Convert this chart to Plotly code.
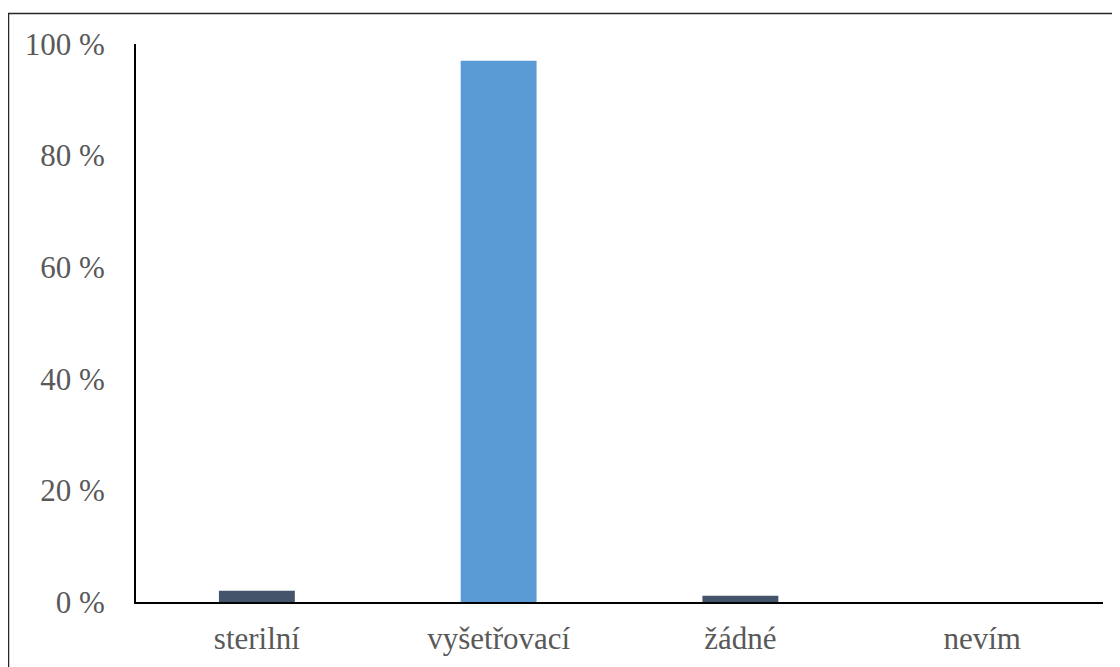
import plotly.graph_objects as go

categories = ["sterilní", "vyšetřovací", "žádné", "nevím"]
values = [2.0, 97.0, 1.1, 0.0]
bar_colors = ["#44546A", "#5B9BD5", "#44546A", "#44546A"]
y_ticks = [0, 20, 40, 60, 80, 100]
y_tick_text = [f"{v} %" for v in y_ticks]

# page body has an 8px margin, so the figure starts at (8, 8)
OFF = 8
W, H = 1120 - OFF, 667 - OFF
L, T = 136 - OFF, 44 - OFF
R = W - (1103 - OFF)
B = H - (602 - OFF)
pw, ph = W - L - R, H - T - B

fig = go.Figure(go.Bar(x=categories, y=values, marker_color=bar_colors,
                       marker_line_width=0))

def px_x(x):
    return (x - OFF - L) / pw

def px_y(y):
    return (H - B - (y - OFF)) / ph

fig.add_shape(type="rect", xref="paper", yref="paper",
              x0=px_x(8.5), x1=px_x(1135), y0=px_y(690), y1=px_y(13.5),
              line=dict(color="#262626", width=1.5), fillcolor="rgba(0,0,0,0)",
              layer="below")

font = dict(family="Liberation Serif, Times New Roman, serif", size=31, color="#595959")

fig.update_layout(
    width=W, height=H,
    margin=dict(l=L, r=R, t=T, b=B, pad=0),
    paper_bgcolor="white", plot_bgcolor="white",
    bargap=0.686,
    showlegend=False,
    font=font,
    xaxis=dict(showline=True, linecolor="black", linewidth=2, showgrid=False,
               ticks="", tickfont=font, ticklabelstandoff=8, zeroline=False),
    yaxis=dict(range=[0, 100], tickmode="array", tickvals=y_ticks, ticktext=y_tick_text,
               showline=True, linecolor="black", linewidth=2, showgrid=False,
               zeroline=False, ticks="", tickfont=font, ticklabelstandoff=23),
)

fig.write_html("out.html")
